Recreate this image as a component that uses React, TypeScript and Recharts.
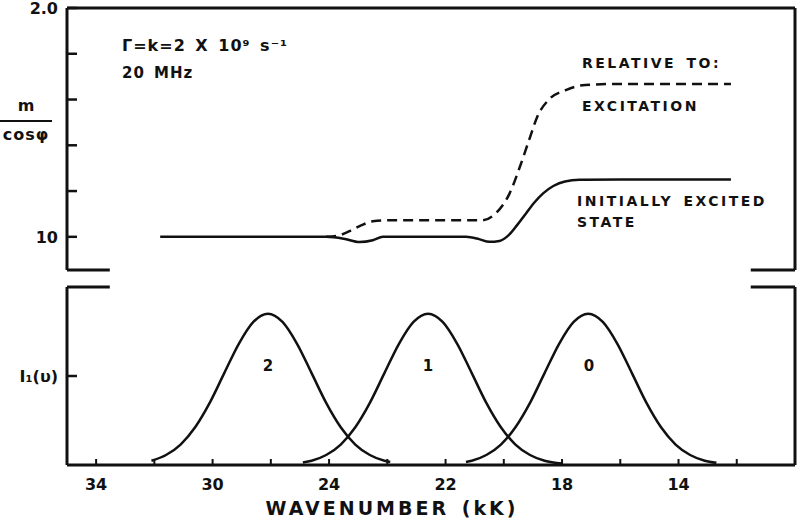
import React from "react";
import { LineChart, Line, XAxis, YAxis, ReferenceLine } from "recharts";

const INK = "#111";
const FONT = '"DejaVu Sans", "Open Sans", sans-serif';

// top panel: m / cos(phi) against wavenumber (kK)
const stateWn = [31.8, 26.1, 25.5, 24.95, 24.5, 24.15, 21.3, 20.85, 20.5, 20.15, 19.85, 19.55, 19.25, 18.95, 18.65, 18.3, 17.9, 17.4, 16.0, 12.2];
const stateM = [1.0, 1.0, 0.992, 0.977, 0.985, 1.0, 1.0, 0.99, 0.978, 0.982, 1.005, 1.05, 1.1, 1.15, 1.19, 1.222, 1.242, 1.249, 1.25, 1.25];

const excWn = [26.1, 25.7, 25.3, 24.9, 24.5, 24.1, 20.75, 20.3, 19.8, 19.45, 19.1, 18.85, 18.45, 17.85, 17.2, 16.0, 12.2];
const excM = [1.0, 1.005, 1.025, 1.05, 1.068, 1.072, 1.072, 1.1, 1.19, 1.305, 1.435, 1.525, 1.6, 1.642, 1.664, 1.668, 1.668];

// bottom panel: vibronic bands 2, 1, 0
const band2Wn = [32.1, 31.6, 31.1, 30.6, 30.1, 29.6, 29.1, 28.6, 28.1, 27.6, 27.1, 26.6, 26.1, 25.6, 25.1, 24.6, 24.1, 23.9];
const band2I = [0.024, 0.056, 0.115, 0.212, 0.349, 0.516, 0.681, 0.804, 0.85, 0.804, 0.681, 0.516, 0.349, 0.212, 0.115, 0.056, 0.024, 0.017];

const band1Wn = [26.9, 26.6, 26.1, 25.6, 25.1, 24.6, 24.1, 23.6, 23.1, 22.6, 22.1, 21.6, 21.1, 20.6, 20.1, 19.6, 19.1, 18.6, 18.0];
const band1I = [0.014, 0.024, 0.056, 0.115, 0.212, 0.349, 0.516, 0.681, 0.804, 0.85, 0.804, 0.681, 0.516, 0.349, 0.212, 0.115, 0.056, 0.024, 0.008];

const band0Wn = [21.3, 21.1, 20.6, 20.1, 19.6, 19.1, 18.6, 18.1, 17.6, 17.1, 16.6, 16.1, 15.6, 15.1, 14.6, 14.1, 13.6, 13.1, 12.7];
const band0I = [0.017, 0.024, 0.056, 0.115, 0.212, 0.349, 0.516, 0.681, 0.804, 0.85, 0.804, 0.681, 0.516, 0.349, 0.212, 0.115, 0.056, 0.024, 0.012];

const topTicks = [1.0, 1.2, 1.4, 1.6, 1.8, 2.0];
const topTickLabels = ["10", "", "", "", "", "2.0"];
const bottomTicks = [0.5];
const bottomTickLabels = ["I₁(υ)"];
const xTicks = [34, 32, 30, 28, 26, 24, 22, 20, 18, 16, 14, 12];
const xTickLabels = ["34", "", "30", "", "24", "", "22", "", "18", "", "14", ""];

const toRows = (wn: number[], v: number[]) => wn.map((w, i) => ({ wn: w, v: v[i] }));

const pick = (ticks: number[], labels: string[], value: number) => {
  const i = ticks.findIndex((t) => Math.abs(t - value) < 1e-6);
  return i >= 0 ? labels[i] : "";
};

function YTick(props: any) {
  const { x, y, payload, ticks, labels } = props;
  return (
    <g>
      <line x1={x} x2={x + 10} y1={y} y2={y} stroke={INK} strokeWidth={2.5} />
      <text x={x - 9} y={y} dy="0.36em" textAnchor="end" fontFamily={FONT} fontWeight="bold" fontSize={16} fill={INK}>
        {pick(ticks, labels, payload.value)}
      </text>
    </g>
  );
}

function XTick(props: any) {
  const { x, y, payload } = props;
  return (
    <g>
      <line x1={x} x2={x} y1={y} y2={y - 6} stroke={INK} strokeWidth={2} />
      <text x={x} y={y + 19} dy="0.36em" textAnchor="middle" fontFamily={FONT} fontWeight="bold" fontSize={16} fill={INK}>
        {pick(xTicks, xTickLabels, payload.value)}
      </text>
    </g>
  );
}

const frame = { stroke: INK, strokeWidth: 3 };

function Note({ x, y, children, size = 14, spacing = 2.5, center = false }: any) {
  return (
    <div
      style={{
        position: "absolute",
        left: center ? x - 200 : x,
        width: center ? 400 : undefined,
        top: y - 10,
        lineHeight: "20px",
        fontFamily: FONT,
        fontWeight: "bold",
        fontSize: size,
        letterSpacing: spacing,
        wordSpacing: 3,
        color: INK,
        whiteSpace: "nowrap",
        textAlign: center ? "center" : "left",
      }}
    >
      {children}
    </div>
  );
}

export default function App() {
  return (
    <div style={{ position: "absolute", left: 0, top: 0, width: 800, height: 523, background: "#fff" }}>
      <div style={{ position: "absolute", left: 0, top: 0 }}>
        <LineChart width={800} height={275} margin={{ top: 8, right: 5, bottom: 5, left: 0 }}>
          <XAxis dataKey="wn" type="number" domain={[10, 35]} reversed allowDataOverflow hide />
          <YAxis
            type="number"
            domain={[0.855, 2.0]}
            ticks={topTicks}
            interval={0}
            allowDataOverflow
            width={67}
            tickSize={0}
            tickMargin={0}
            tickLine={false}
            axisLine={frame}
            tick={(p: any) => <YTick {...p} ticks={topTicks} labels={topTickLabels} />}
          />
          <ReferenceLine y={2.0} {...frame} />
          <ReferenceLine x={10} {...frame} />
          <ReferenceLine segment={[{ x: 35, y: 0.855 }, { x: 33.53, y: 0.855 }]} {...frame} />
          <ReferenceLine segment={[{ x: 11.52, y: 0.855 }, { x: 10, y: 0.855 }]} {...frame} />
          <Line data={toRows(stateWn, stateM)} dataKey="v" type="monotone" stroke={INK} strokeWidth={2.5} dot={false} isAnimationActive={false} />
          <Line data={toRows(excWn, excM)} dataKey="v" type="monotone" stroke={INK} strokeWidth={2.5} strokeDasharray="10 6" dot={false} isAnimationActive={false} />
        </LineChart>
      </div>

      <div style={{ position: "absolute", left: 0, top: 280 }}>
        <LineChart width={800} height={243} margin={{ top: 7, right: 5, bottom: 0, left: 0 }}>
          <XAxis
            dataKey="wn"
            type="number"
            domain={[10, 35]}
            reversed
            allowDataOverflow
            ticks={xTicks}
            interval={0}
            height={58}
            tickSize={0}
            tickMargin={0}
            tickLine={false}
            axisLine={frame}
            tick={(p: any) => <XTick {...p} />}
          />
          <YAxis
            type="number"
            domain={[0, 1]}
            ticks={bottomTicks}
            interval={0}
            width={67}
            tickSize={0}
            tickMargin={0}
            tickLine={false}
            axisLine={frame}
            tick={(p: any) => <YTick {...p} ticks={bottomTicks} labels={bottomTickLabels} />}
          />
          <ReferenceLine x={10} {...frame} />
          <ReferenceLine segment={[{ x: 35, y: 1 }, { x: 33.53, y: 1 }]} {...frame} />
          <ReferenceLine segment={[{ x: 11.52, y: 1 }, { x: 10, y: 1 }]} {...frame} />
          <Line data={toRows(band2Wn, band2I)} dataKey="v" type="monotone" stroke={INK} strokeWidth={2.5} dot={false} isAnimationActive={false} />
          <Line data={toRows(band1Wn, band1I)} dataKey="v" type="monotone" stroke={INK} strokeWidth={2.5} dot={false} isAnimationActive={false} />
          <Line data={toRows(band0Wn, band0I)} dataKey="v" type="monotone" stroke={INK} strokeWidth={2.5} dot={false} isAnimationActive={false} />
        </LineChart>
      </div>

      <Note x={122} y={46} size={16} spacing={1}>Γ=k=2 X 10⁹ s⁻¹</Note>
      <Note x={122} y={73} size={15} spacing={1}>20 MHz</Note>
      <Note x={582} y={63}>RELATIVE TO:</Note>
      <Note x={582} y={106}>EXCITATION</Note>
      <Note x={577} y={201}>INITIALLY EXCITED</Note>
      <Note x={577} y={222}>STATE</Note>

      <Note x={268} y={366} size={15} spacing={0} center>2</Note>
      <Note x={428} y={366} size={15} spacing={0} center>1</Note>
      <Note x={589} y={366} size={15} spacing={0} center>0</Note>

      <Note x={26} y={106} size={16} spacing={0} center>m</Note>
      <div style={{ position: "absolute", left: 0, top: 120, width: 52, height: 2, background: INK }} />
      <Note x={26} y={135} size={16} spacing={1} center>cosφ</Note>

      <Note x={392} y={508} size={19} spacing={3} center>WAVENUMBER (kK)</Note>
    </div>
  );
}
